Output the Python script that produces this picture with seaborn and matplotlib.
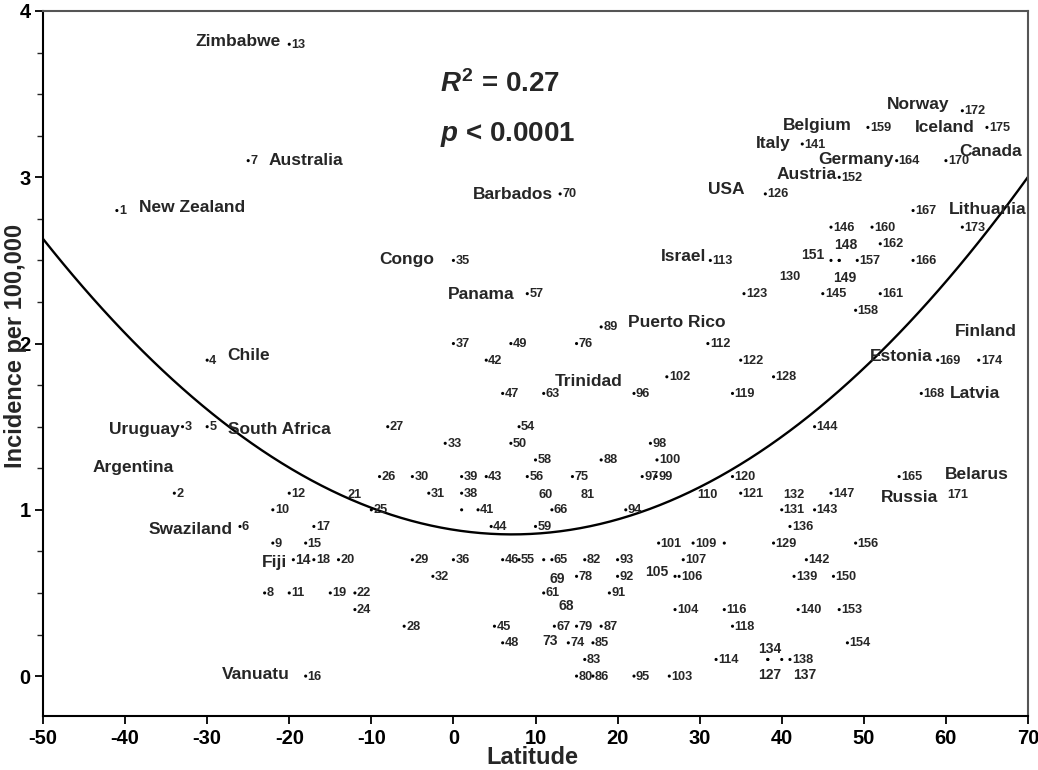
import numpy as np
import pandas as pd
import matplotlib
matplotlib.use("Agg")
import matplotlib.pyplot as plt
from matplotlib.ticker import MultipleLocator
import seaborn as sns

# ---------------- data ----------------
ids = [1, 2, 3, 4, 5, 6, 7, 8, 9, 10, 11, 12, 13, 14, 15, 16, 17, 18, 19, 20,
       21, 22, 24, 25, 26, 27, 28, 29, 30, 31, 32, 33, 35, 36, 37, 38, 39, 40,
       41, 42, 43, 44, 45, 46, 47, 48, 49, 50, 54, 55, 56, 57, 58, 59, 60, 61,
       63, 65, 66, 67, 68, 69, 70, 73, 74, 75, 76, 78, 79, 80, 81, 82, 83, 85,
       86, 87, 88, 89, 91, 92, 93, 94, 95, 96, 97, 98, 99, 100, 101, 102, 103,
       104, 105, 106, 107, 109, 110, 112, 113, 114, 115, 116, 118, 119, 120,
       121, 122, 123, 126, 127, 128, 129, 130, 131, 132, 134, 136, 137, 138,
       139, 140, 141, 142, 143, 144, 145, 146, 147, 148, 149, 150, 151, 152,
       153, 154, 156, 157, 158, 159, 160, 161, 162, 164, 165, 166, 167, 168,
       169, 170, 171, 172, 173, 174, 175]

latitude = [-41, -34, -33, -30, -30, -26, -25, -23, -22, -22, -20, -20, -20, -19.5, -18, -18, -17, -17, -15, -14,
            -12, -12, -12, -10, -9, -8, -6, -5, -5, -3, -2.5, -1, 0, 0, 0, 1, 1, 1,
            3, 4, 4, 4.6, 5, 6, 6, 6, 7, 7, 8, 8, 9, 9, 10, 10, 11.2, 11,
            11, 12, 12, 12.3, 13.8, 11, 13, 11.8, 14, 14.5, 15, 15, 15, 15, 16.3, 16, 16, 17,
            17, 18, 18, 18, 19, 20, 20, 21, 22, 22, 23, 24, 24.7, 24.8, 25, 26, 26.3,
            27, 27, 27.5, 28, 29.2, 30.9, 31, 31.3, 32, 33, 33, 34, 34, 34,
            35, 35, 35.4, 38, 38.3, 39, 39, 41, 40, 41.5, 38.3, 41, 40, 41,
            41.5, 42, 42.5, 43, 44, 44, 45, 46, 46, 47, 47, 46.3, 46, 47,
            47, 48, 49, 49.2, 49, 50.5, 51, 52, 52, 54, 54.3, 56, 56, 57,
            59, 60, 61.4, 62, 62, 64, 65]

incidence = [2.8, 1.1, 1.5, 1.9, 1.5, 0.9, 3.1, 0.5, 0.8, 1.0, 0.5, 1.1, 3.8, 0.7, 0.8, 0.0, 0.9, 0.7, 0.5, 0.7,
             1.1, 0.5, 0.4, 1.0, 1.2, 1.5, 0.3, 0.7, 1.2, 1.1, 0.6, 1.4, 2.5, 0.7, 2.0, 1.1, 1.2, 1.0,
             1.0, 1.9, 1.2, 0.9, 0.3, 0.7, 1.7, 0.2, 2.0, 1.4, 1.5, 0.7, 1.2, 2.3, 1.3, 0.9, 1.1, 0.5,
             1.7, 0.7, 1.0, 0.3, 0.43, 0.7, 2.9, 0.22, 0.2, 1.2, 2.0, 0.6, 0.3, 0.0, 1.1, 0.7, 0.1, 0.2,
             0.0, 0.3, 1.3, 2.1, 0.5, 0.6, 0.7, 1.0, 0.0, 1.7, 1.2, 1.4, 1.2, 1.3, 0.8, 1.8, 0.0,
             0.4, 0.6, 0.6, 0.7, 0.8, 1.1, 2.0, 2.5, 0.1, 0.8, 0.4, 0.3, 1.7, 1.2,
             1.1, 1.9, 2.3, 2.9, 0.1, 1.8, 0.8, 2.41, 1.0, 1.1, 0.1, 0.9, 0.1, 0.1,
             0.6, 0.4, 3.2, 0.7, 1.0, 1.5, 2.3, 2.7, 1.1, 2.5, 2.5, 0.6, 2.5, 3.0,
             0.4, 0.2, 0.8, 2.5, 2.2, 3.3, 2.7, 2.3, 2.6, 3.1, 1.2, 2.5, 2.8, 1.7,
             1.9, 3.1, 1.1, 3.4, 2.7, 1.9, 3.3]

countries = {13: "Zimbabwe", 7: "Australia", 1: "New Zealand", 70: "Barbados",
             35: "Congo", 57: "Panama", 126: "USA", 141: "Italy", 159: "Belgium",
             172: "Norway", 175: "Iceland", 170: "Canada", 164: "Germany",
             152: "Austria", 113: "Israel", 167: "Lithuania", 89: "Puerto Rico",
             4: "Chile", 63: "Trinidad", 174: "Finland", 169: "Estonia",
             168: "Latvia", 3: "Uruguay", 5: "South Africa", 2: "Argentina",
             165: "Belarus", 171: "Russia", 6: "Swaziland", 14: "Fiji",
             16: "Vanuatu"}

r2_text = r"$\mathit{R}^{2}$ = 0.27"
p_text = r"$\mathit{p}$ < 0.0001"
x_label = "Latitude"
y_label = "Incidence per 100,000"
x_ticks = [-50, -40, -30, -20, -10, 0, 10, 20, 30, 40, 50, 60, 70]
y_ticks = [0, 1, 2, 3, 4]

# ---------------- layout / style ----------------
label_only = {21, 60, 68, 73, 81, 110, 130, 132, 171}   # label drawn on the point, no dot
no_label = {40, 115}
big_labels = {14, 68, 69, 73, 105, 127, 134, 137, 148, 149, 151}
# displaced number labels: (dx px, dy px up, ha)
label_offsets = {151: (-18, 7, "center"), 148: (7, 17, "center"), 149: (6, -16, "center"),
                 134: (2, 12, "center"), 127: (2, -14, "center"), 137: (23, -14, "center"),
                 69: (14, -18, "center"), 105: (-18, 6, "center")}
# country names: (ha, dx px, dy px up) relative to the point
country_layout = {13: ("right", -8, 4), 7: ("left", 20, 2), 1: ("left", 22, 5),
                  70: ("right", -7, 1), 35: ("right", -19, 2), 57: ("right", -13, 1),
                  126: ("right", -21, 6), 141: ("right", -12, 2), 159: ("right", -16, 3),
                  172: ("right", -13, 8), 175: ("right", -12, 1), 170: ("left", 13, 11),
                  164: ("right", -3, 3), 152: ("right", -3, 4), 113: ("right", -4, 5),
                  167: ("left", 36, 3), 89: ("left", 27, 6), 4: ("left", 20, 6),
                  63: ("left", 11, 13), 174: ("left", -24, 30), 169: ("right", -5, 5),
                  168: ("left", 29, 1), 3: ("right", -3, -1), 5: ("left", 21, -1),
                  2: ("right", -1, 27), 165: ("left", 46, 4), 171: ("right", -19, -3),
                  6: ("right", -7, -2), 14: ("right", -6, -1), 16: ("right", -16, 3)}

sns.set_style("ticks")
plt.rcParams["font.family"] = ["Liberation Sans", "DejaVu Sans"]
plt.rcParams["font.weight"] = "bold"
plt.rcParams["axes.unicode_minus"] = False
plt.rcParams["mathtext.fontset"] = "custom"
plt.rcParams["mathtext.it"] = "Liberation Sans:italic:bold"
plt.rcParams["mathtext.rm"] = "Liberation Sans:bold"
plt.rcParams["mathtext.bf"] = "Liberation Sans:bold"

df = pd.DataFrame({"id": ids, "lat": latitude, "inc": incidence})

fig = plt.figure(figsize=(10.38, 7.70), dpi=100)
ax = fig.add_axes([43 / 1038, 1 - 716 / 770, 985 / 1038, 705 / 770])
ax.set_xlim(-50, 70)
ax.set_ylim(-0.24, 4.0)

dots = df[~df["id"].isin(label_only)]
sns.scatterplot(data=dots, x="lat", y="inc", s=5, color="black", edgecolor="none",
                ax=ax, legend=False, zorder=3)
sns.regplot(data=df, x="lat", y="inc", order=2, ci=None, scatter=False, truncate=False,
            line_kws=dict(color="black", lw=1.7), ax=ax)

for pid, x, y in zip(df["id"], df["lat"], df["inc"]):
    if pid in no_label:
        continue
    size = 10 if pid in big_labels else 9.2
    if pid in label_only:
        dx, dy, ha = 0, 0, "center"
    else:
        dx, dy, ha = label_offsets.get(pid, (2, 1, "left"))
    ax.annotate(str(pid), (x, y), xytext=(dx, dy), textcoords="offset pixels",
                ha=ha, va="center_baseline", fontsize=size, fontweight="bold")
    if pid in countries:
        cha, cdx, cdy = country_layout[pid]
        ax.annotate(countries[pid], (x, y), xytext=(cdx, cdy), textcoords="offset pixels",
                    ha=cha, va="center_baseline", fontsize=12.5, fontweight="bold")

ax.text(0.403, 0.900, r2_text, transform=ax.transAxes, fontsize=20, fontweight="bold",
        ha="left", va="center_baseline")
ax.text(0.403, 0.830, p_text, transform=ax.transAxes, fontsize=20, fontweight="bold",
        ha="left", va="center_baseline")

ax.set_xticks(x_ticks)
ax.set_yticks(y_ticks)
ax.yaxis.set_minor_locator(MultipleLocator(0.25))
ax.tick_params(axis="both", which="major", direction="out", length=6, width=1.3,
               labelsize=14.5, colors="black", pad=3)
ax.tick_params(axis="y", which="minor", direction="out", length=4, width=1.0, left=True)
for lab in ax.get_xticklabels() + ax.get_yticklabels():
    lab.set_fontweight("bold")

ax.set_xlabel(x_label, fontsize=17, fontweight="bold")
ax.set_ylabel(y_label, fontsize=17, fontweight="bold")
ax.xaxis.set_label_coords(0.497, -0.043)
ax.yaxis.set_label_coords(-0.016, 0.525)

for side in ["left", "bottom"]:
    ax.spines[side].set_color("black")
    ax.spines[side].set_linewidth(1.5)
for side in ["top", "right"]:
    ax.spines[side].set_color("#555555")
    ax.spines[side].set_linewidth(1.5)

fig.savefig("out.png", dpi=100)
